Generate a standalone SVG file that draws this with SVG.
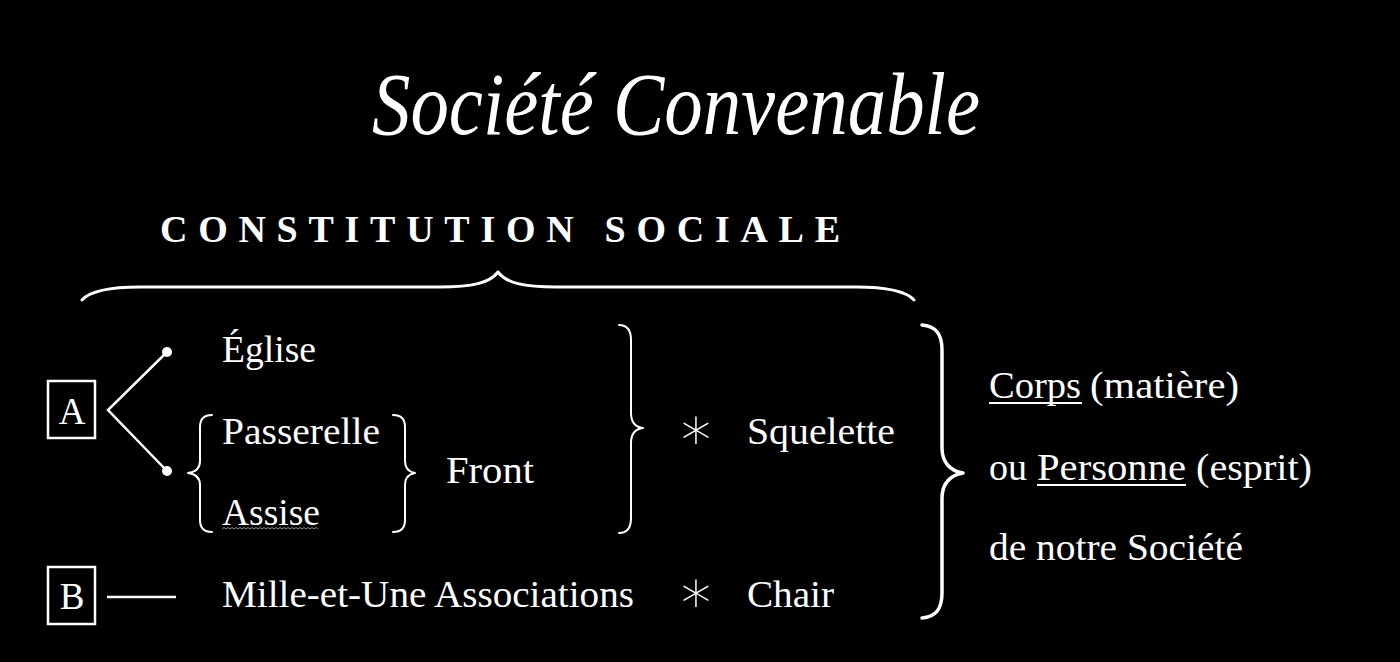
<svg xmlns="http://www.w3.org/2000/svg" width="1400" height="662" viewBox="0 0 1400 662">
<style>
.t{font-family:"Liberation Serif","Times New Roman",serif;fill:#fff;font-size:37px}
.title{font-family:"Liberation Serif","Times New Roman",serif;font-style:italic;fill:#fff;font-size:88px}
.head{font-family:"Liberation Serif","Times New Roman",serif;font-weight:bold;fill:#fff;font-size:38px}
.ast{font-family:"DejaVu Sans ExtraLight","DejaVu Sans",sans-serif;font-weight:200;fill:#fff;font-size:60px}
.br{fill:none;stroke:#fff;stroke-linecap:round;stroke-linejoin:round}
.ln{stroke:#fff;stroke-width:2.5;fill:none}
.box{fill:none;stroke:#fff;stroke-width:2.5}
.ul{stroke:#fff;stroke-width:1.8}
</style>
<rect width="1400" height="662" fill="#000"/>
<g id="title"><text class="title" x="676" y="134" text-anchor="middle" textLength="608" lengthAdjust="spacingAndGlyphs">Société Convenable</text></g>
<g id="heading"><text class="head" x="160" y="242" textLength="680" lengthAdjust="spacing">CONSTITUTION SOCIALE</text></g>
<g id="braces">
<path class="br" stroke-width="3" d="M82,300 C 90,291 110,287 140,287 L 440,287 C 472,287 490,283 498,272 C 506,283 524,287 556,287 L 856,287 C 886,287 906,291 914,300"/>
<path class="br" stroke-width="2" d="M212,415 C 204,415 200,419 200,427 L 200,461 C 200,468 196,472 188,473 C 196,474 200,478 200,485 L 200,520 C 200,528 204,532 212,532"/>
<path class="br" stroke-width="2" d="M393,415 C 401,415 405,419 405,427 L 405,461 C 405,468 409,472 415,473 C 409,474 405,478 405,485 L 405,520 C 405,528 401,532 393,532"/>
<path class="br" stroke-width="2" d="M619,325 C 627,325 631,330 631,340 L 631,413 C 631,422 635,427 643,428 C 635,429 631,434 631,443 L 631,518 C 631,528 627,533 619,533"/>
<path class="br" stroke-width="3.5" d="M922,325 C 936,326 942,334 942,350 L 942,448 C 942,462 950,471 963,473 C 950,475 942,484 942,498 L 942,593 C 942,609 936,617 922,618"/>
</g>
<g id="nodeA"><rect class="box" x="48" y="381" width="47" height="57"/><text class="t" x="72" y="424" text-anchor="middle">A</text></g>
<g id="nodeB"><rect class="box" x="48" y="567" width="47" height="57"/><text class="t" x="72" y="609" text-anchor="middle">B</text></g>
<g id="connectors">
<polyline class="ln" points="167,352 108,410 167,471"/>
<circle cx="167" cy="352" r="5" fill="#fff"/>
<circle cx="167" cy="471" r="5" fill="#fff"/>
<line class="ln" x1="107" y1="597" x2="176" y2="597"/>
</g>
<g id="eglise"><text class="t" x="222" y="362" textLength="94" lengthAdjust="spacingAndGlyphs">Église</text></g>
<g id="passerelle"><text class="t" x="222" y="444" textLength="158" lengthAdjust="spacingAndGlyphs">Passerelle</text></g>
<g id="assise"><text class="t" x="222" y="525" textLength="98" lengthAdjust="spacingAndGlyphs">Assise</text>
<path d="M222,529 l2,-1.5 l2,1.5 l2,-1.5 l2,1.5 l2,-1.5 l2,1.5 l2,-1.5 l2,1.5 l2,-1.5 l2,1.5 l2,-1.5 l2,1.5 l2,-1.5 l2,1.5 l2,-1.5 l2,1.5 l2,-1.5 l2,1.5 l2,-1.5 l2,1.5 l2,-1.5 l2,1.5 l2,-1.5 l2,1.5 l2,-1.5 l2,1.5 l2,-1.5 l2,1.5 l2,-1.5 l2,1.5 l2,-1.5 l2,1.5 l2,-1.5 l2,1.5 l2,-1.5 l2,1.5 l2,-1.5 l2,1.5 l2,-1.5 l2,1.5 l2,-1.5 l2,1.5 l2,-1.5 l2,1.5 l2,-1.5 l2,1.5 l2,-1.5 l2,1.5" fill="none" stroke="#8a8a8a" stroke-width="1"/></g>
<g id="front"><text class="t" x="446" y="483" textLength="88" lengthAdjust="spacingAndGlyphs">Front</text></g>
<g id="squelette"><text class="ast" x="696" y="449" text-anchor="middle">∗</text><text class="t" x="747" y="444" textLength="148" lengthAdjust="spacingAndGlyphs">Squelette</text></g>
<g id="mille"><text class="t" x="222" y="607" textLength="412" lengthAdjust="spacingAndGlyphs">Mille-et-Une Associations</text></g>
<g id="chair"><text class="ast" x="696" y="612" text-anchor="middle">∗</text><text class="t" x="747" y="607" textLength="87" lengthAdjust="spacingAndGlyphs">Chair</text></g>
<g id="corps">
<text class="t" x="989" y="398" textLength="92" lengthAdjust="spacingAndGlyphs">Corps</text>
<line class="ul" x1="989" y1="403" x2="1082" y2="403"/>
<text class="t" x="1090" y="398" textLength="149" lengthAdjust="spacingAndGlyphs">(matière)</text>
<text class="t" x="989" y="480" textLength="38" lengthAdjust="spacingAndGlyphs">ou</text>
<text class="t" x="1037" y="480" textLength="149" lengthAdjust="spacingAndGlyphs">Personne</text>
<line class="ul" x1="1037" y1="485" x2="1186" y2="485"/>
<text class="t" x="1196" y="480" textLength="116" lengthAdjust="spacingAndGlyphs">(esprit)</text>
<text class="t" x="989" y="560" textLength="254" lengthAdjust="spacingAndGlyphs">de notre Société</text>
</g>
</svg>
